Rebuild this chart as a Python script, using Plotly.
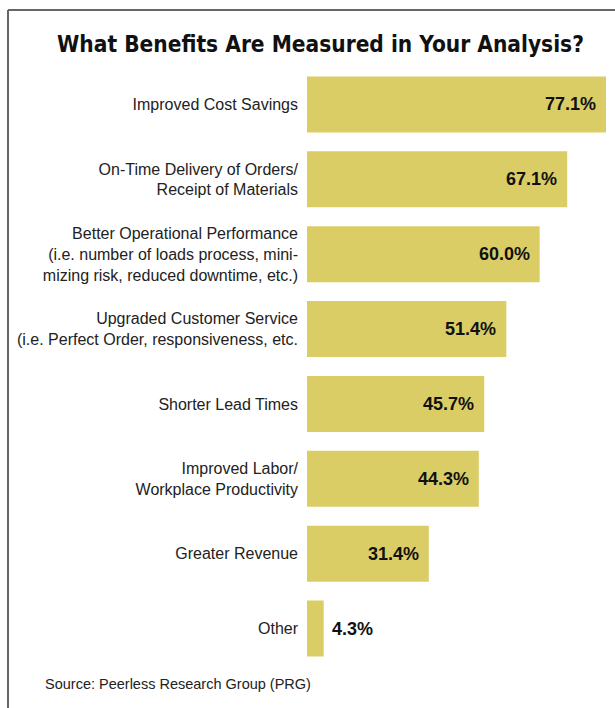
import plotly.graph_objects as go

categories = [
    "Improved Cost Savings",
    "On-Time Delivery of Orders/<br>Receipt of Materials",
    "Better Operational Performance<br>(i.e. number of loads process, mini-<br>mizing risk, reduced downtime, etc.)",
    "Upgraded Customer Service<br>(i.e. Perfect Order, responsiveness, etc.",
    "Shorter Lead Times",
    "Improved Labor/<br>Workplace Productivity",
    "Greater Revenue",
    "Other",
]
values = [77.1, 67.1, 60.0, 51.4, 45.7, 44.3, 31.4, 4.3]
value_labels = ["77.1%", "67.1%", "60.0%", "51.4%", "45.7%", "44.3%", "31.4%", "4.3%"]

title_text = "What Benefits Are Measured in Your Analysis?"
source_text = "Source: Peerless Research Group (PRG)"

BAR_COLOR = "#DBCD66"
W, H = 615, 708
L, R, T, B = 307, 9, 66.5, 41.5

fig = go.Figure(go.Bar(
    x=values, y=categories, orientation="h",
    marker=dict(color=BAR_COLOR, line=dict(width=0)),
    hoverinfo="skip",
))

for v, c, lab in zip(values, categories, value_labels):
    inside = v > 10
    fig.add_annotation(
        x=v, y=c, xref="x", yref="y", text="<b>" + lab + "</b>", showarrow=False,
        xanchor="right" if inside else "left",
        xshift=-8 if inside else 6,
        font=dict(family="Liberation Sans", size=18, color="#111111"),
    )

pw = W - L - R
ph = H - T - B
def px_x(p):
    return (p - L) / pw
def px_y(p):
    return 1 - (p - T) / ph

# frame (left and top edges visible)
fig.add_shape(type="line", xref="paper", yref="paper",
              x0=px_x(8), x1=px_x(8), y0=px_y(720), y1=px_y(9.5),
              line=dict(color="#666666", width=2))
fig.add_shape(type="line", xref="paper", yref="paper",
              x0=px_x(8), x1=px_x(630), y0=px_y(9.5), y1=px_y(9.5),
              line=dict(color="#666666", width=2))

fig.add_annotation(
    xref="paper", yref="paper", x=px_x(320), y=px_y(43),
    text="<b>" + title_text + "</b>", showarrow=False,
    xanchor="center", yanchor="middle",
    font=dict(family="DejaVu Sans Condensed, Liberation Sans", size=22.5, color="#111111"),
)
fig.add_annotation(
    xref="paper", yref="paper", x=px_x(43), y=px_y(685),
    text=source_text, showarrow=False,
    xanchor="left", yanchor="middle",
    font=dict(family="Liberation Sans", size=14.5, color="#222222"),
)

fig.update_layout(
    width=W, height=H,
    margin=dict(l=L, r=R, t=T, b=B, autoexpand=False),
    paper_bgcolor="white", plot_bgcolor="white",
    bargap=0.253, showlegend=False,
    xaxis=dict(range=[0, 77.1], visible=False, fixedrange=True),
    yaxis=dict(
        autorange="reversed", showgrid=False, zeroline=False, showline=False,
        ticks="", ticklabelstandoff=8, automargin=False, fixedrange=True,
        tickfont=dict(family="Liberation Sans", size=16, color="#222222"),
    ),
)

fig.write_html(
    "out.html",
    config={"displayModeBar": False},
    post_script="document.body.style.margin='0';document.body.style.overflow='hidden';",
)
